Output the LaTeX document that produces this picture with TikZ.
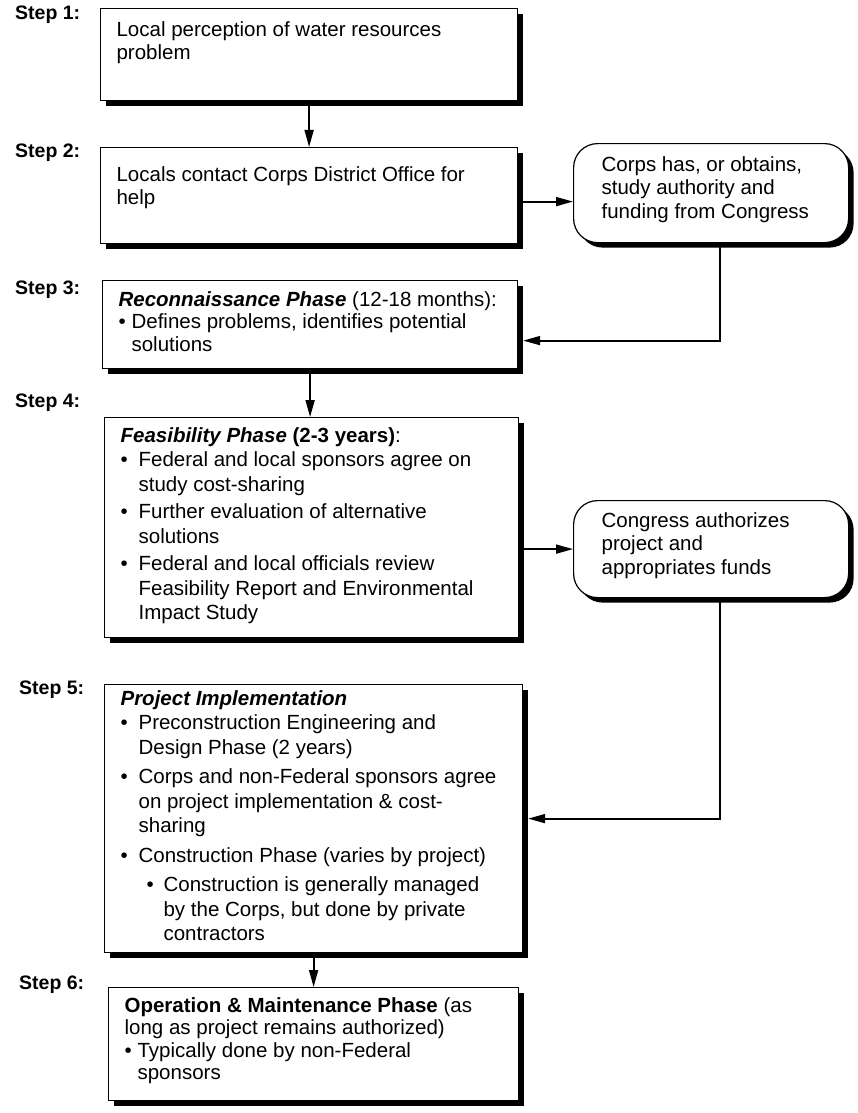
\documentclass[tikz,border=0pt]{standalone}
\usepackage{fontspec}
\setmainfont{Liberation Sans}
\usetikzlibrary{arrows.meta,shadows}

\newlength{\bulind}
\setlength{\bulind}{18pt}
\newcommand{\bitem}[1]{\mbox{\makebox[\bulind][l]{\textbullet}#1}}
\newcommand{\bcont}[1]{\mbox{\hspace*{\bulind}#1}}
\newcommand{\sitem}[1]{\mbox{\hspace*{26pt}\makebox[17pt][l]{\textbullet}#1}}
\newcommand{\scont}[1]{\mbox{\hspace*{43pt}#1}}
\newcommand{\boxbody}[3]{\parbox[t][#2][t]{#1}{\raggedright#3}}

\tikzset{
  stepbox/.style={draw, line width=1.2pt, fill=white, anchor=north west,
    inner xsep=16pt, font=\fontsize{20.5}{23.5}\selectfont,
    drop shadow={shadow xshift=5pt, shadow yshift=-5pt, opacity=1, fill=black}},
  roundbox/.style={stepbox, rounded corners=24pt, inner xsep=28pt},
  steplabel/.style={anchor=west, inner sep=0pt, font=\fontsize{19.5}{22}\selectfont\bfseries},
  flow/.style={line width=1.8pt, -{Triangle[length=17pt,width=9pt]}},
}

\begin{document}
\begin{tikzpicture}[x=1pt,y=-1pt]
  \useasboundingbox (0,0) rectangle (858,1113);

  \node[steplabel] (s1) at (15,15) {Step 1:};
  \node[steplabel] (s2) at (15,153) {Step 2:};
  \node[steplabel] (s3) at (15,290) {Step 3:};
  \node[steplabel] (s4) at (15,403) {Step 4:};
  \node[steplabel] (s5) at (19,690) {Step 5:};
  \node[steplabel] (s6) at (19,985) {Step 6:};

  \node[stepbox, inner ysep=13pt] (perc) at (100,8)
    {\boxbody{385pt}{66pt}{Local perception of water resources\\ problem}};
  \node[stepbox, inner ysep=19pt] (contact) at (100,147)
    {\boxbody{385pt}{58pt}{Locals contact Corps District Office for\\ help}};
  \node[roundbox, inner ysep=13pt] (authority) at (573,143)
    {\boxbody{219pt}{73pt}{Corps has, or obtains,\\ study authority and\\ funding from Congress}};
  \node[stepbox, inner ysep=11pt, font=\fontsize{20.5}{22.5}\selectfont] (recon) at (102,280)
    {\boxbody{383pt}{66pt}{\setlength{\bulind}{13pt}%
      \textbf{\textit{Reconnaissance Phase}} (12-18 months):\\
      \bitem{Defines problems, identifies potential}\\
      \bcont{solutions}}};
  \node[stepbox, inner ysep=10pt, font=\fontsize{20.5}{24.5}\selectfont] (feas) at (104,417)
    {\boxbody{382pt}{200pt}{%
      \textbf{\textit{Feasibility Phase} (2-3 years)}:\\
      \bitem{Federal and local sponsors agree on}\\
      \bcont{study cost-sharing}\\[3pt]
      \bitem{Further evaluation of alternative}\\
      \bcont{solutions}\\[3pt]
      \bitem{Federal and local officials review}\\
      \bcont{Feasibility Report and Environmental}\\
      \bcont{Impact Study}}};
  \node[roundbox, inner ysep=12pt] (congress) at (573,500)
    {\boxbody{219pt}{73pt}{Congress authorizes\\ project and\\ appropriates funds}};
  \node[stepbox, inner ysep=6pt, font=\fontsize{20.5}{24.5}\selectfont] (project) at (104,684)
    {\boxbody{386pt}{256pt}{%
      \textbf{\textit{Project Implementation}}\\
      \bitem{Preconstruction Engineering and}\\
      \bcont{Design Phase (2 years)}\\[5pt]
      \bitem{Corps and non-Federal sponsors agree}\\
      \bcont{on project implementation \& cost-}\\
      \bcont{sharing}\\[5pt]
      \bitem{Construction Phase (varies by project)}\\[5pt]
      \sitem{Construction is generally managed}\\
      \scont{by the Corps, but done by private}\\
      \scont{contractors}}};
  \node[stepbox, inner ysep=10pt, font=\fontsize{20.5}{22.5}\selectfont] (operate) at (108,987)
    {\boxbody{378pt}{93pt}{\setlength{\bulind}{13pt}%
      \textbf{Operation \& Maintenance Phase} (as\\
      long as project remains authorized)\\
      \bitem{Typically done by non-Federal}\\
      \bcont{sponsors}}};

  % connectors
  \draw[flow] (perc.south) -- (contact.north);
  \coordinate (helpout) at ([yshift=-6pt]contact.east);
  \draw[flow] (helpout) -- (helpout -| authority.west);
  \draw[flow, shorten >=5pt] ([xshift=9pt]authority.south) |- ([yshift=-16pt]recon.east);
  \draw[flow] (recon.south) -- (recon.south |- feas.north);
  \draw[flow] (feas.east |- congress.west) -- (congress.west);
  \draw[flow, shorten >=5pt] ([xshift=9pt]congress.south) |- (project.east);
  \draw[flow] (project.south) -- (project.south |- operate.north);
\end{tikzpicture}
\end{document}
